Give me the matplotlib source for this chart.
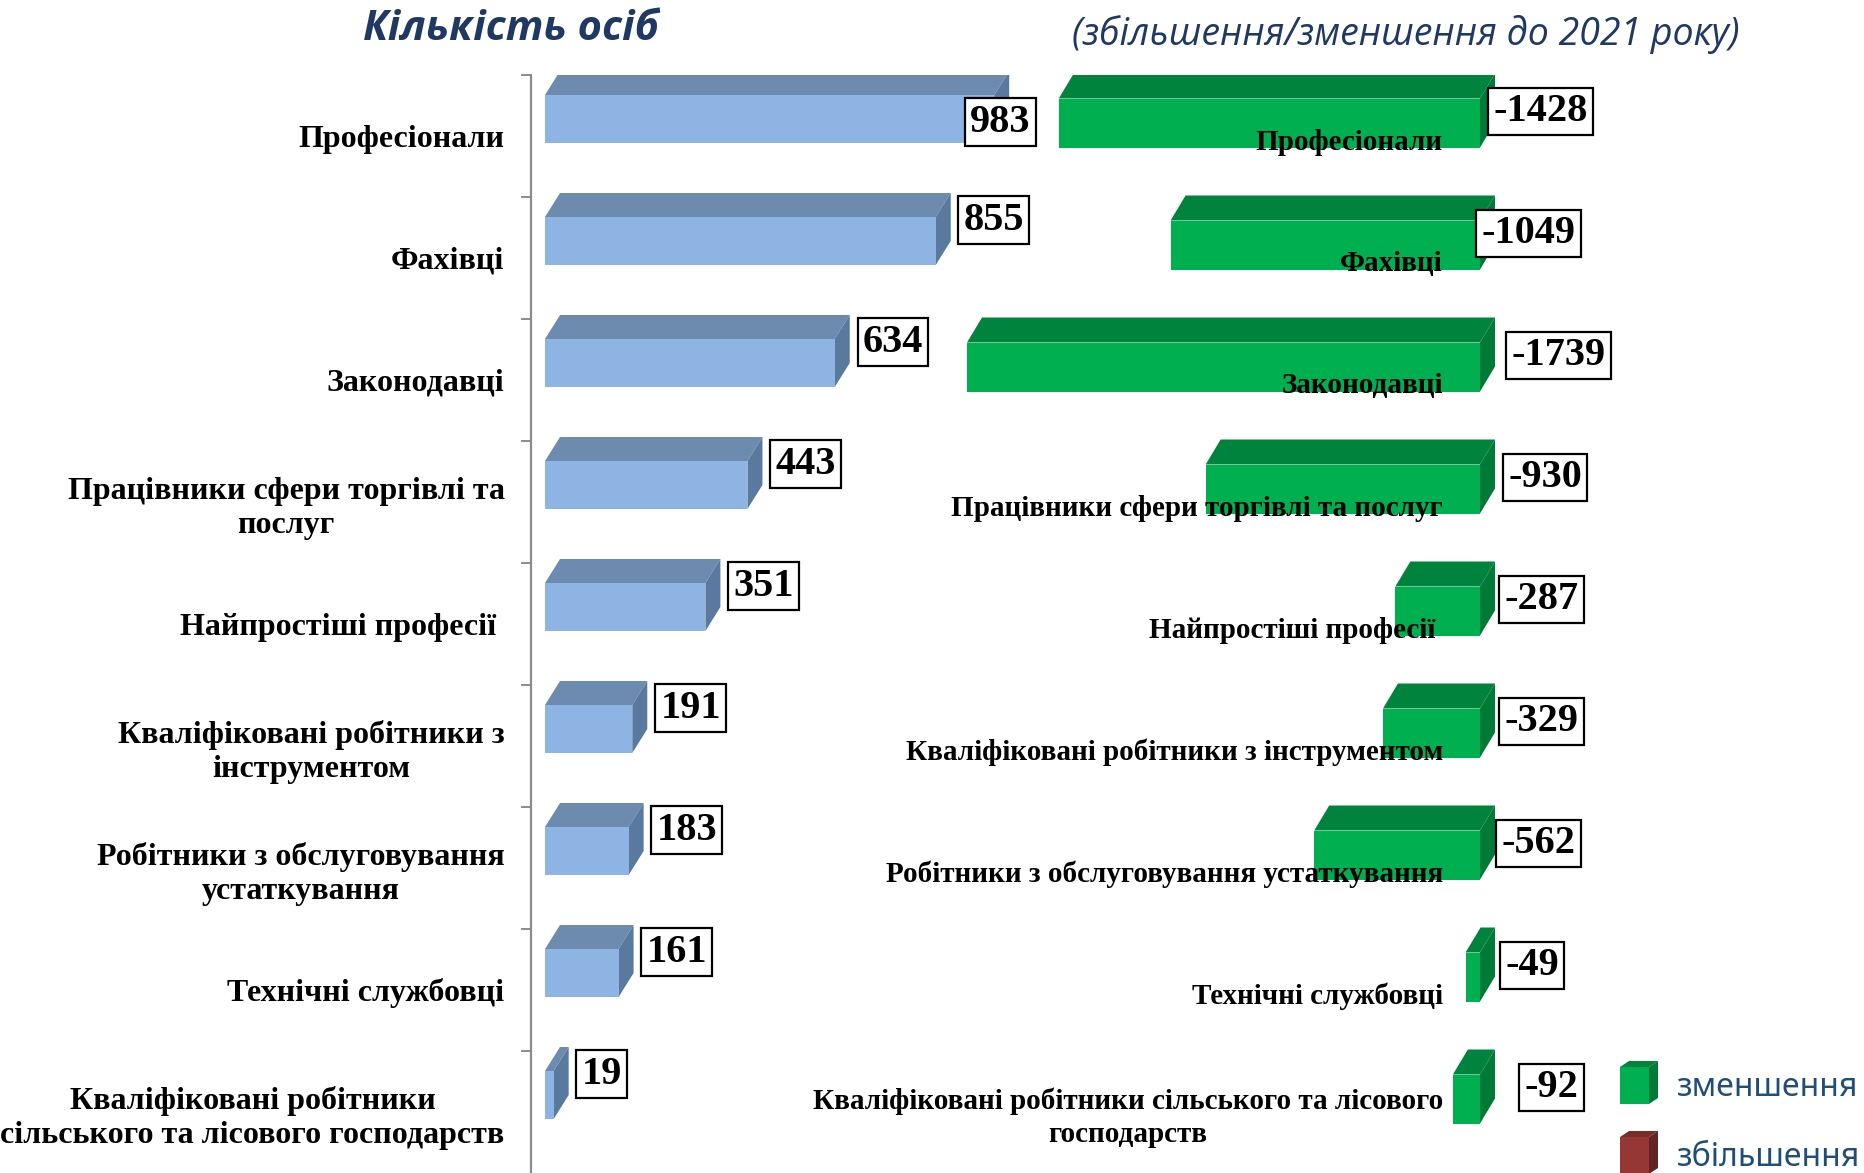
import matplotlib
matplotlib.use("Agg")
import matplotlib.pyplot as plt
from matplotlib.patches import Polygon

# data
left_labels = ["Професіонали", "Фахівці", "Законодавці",
               "Працівники сфери торгівлі та\nпослуг", "Найпростіші професії ",
               "Кваліфіковані робітники з\nінструментом",
               "Робітники з обслуговування\nустаткування", "Технічні службовці",
               "Кваліфіковані робітники\nсільського та лісового господарств"]
right_labels = ["Професіонали", "Фахівці", "Законодавці",
                "Працівники сфери торгівлі та послуг", "Найпростіші професії ",
                "Кваліфіковані робітники з інструментом",
                "Робітники з обслуговування устаткування", "Технічні службовці",
                "Кваліфіковані робітники сільського та лісового\nгосподарств"]
persons = [983, 855, 634, 443, 351, 191, 183, 161, 19]
change = [-1428, -1049, -1739, -930, -287, -329, -562, -49, -92]
legend_names = ["зменшення", "збільшення"]

W, H = 1865, 1173
ROW = 122.0          # px per category
TOP = 75             # px, first tick
SERIF = "Liberation Serif"
NAVY = "#1F3864"

fig = plt.figure(figsize=(W / 100, H / 100), dpi=100)


def rect(x0, y0, x1, y1):
    return [x0 / W, 1 - y1 / H, (x1 - x0) / W, (y1 - y0) / H]


def bar3d(ax, x0, x1, yt, yb, ddx, ddy, cf, ct, cs):
    ax.add_patch(Polygon([(x0, yt), (x1, yt), (x1 + ddx, yt - ddy), (x0 + ddx, yt - ddy)],
                         closed=True, fc=ct, ec="none"))
    ax.add_patch(Polygon([(x1, yt), (x1 + ddx, yt - ddy), (x1 + ddx, yb - ddy), (x1, yb)],
                         closed=True, fc=cs, ec="none"))
    ax.add_patch(Polygon([(x0, yt), (x1, yt), (x1, yb), (x0, yb)],
                         closed=True, fc=cf, ec="none"))


n = len(persons)
box = dict(boxstyle="square,pad=0.13", fc="white", ec="black", lw=1.6)
VFS = 29

# ---------- left panel: number of persons ----------
sxl = 0.457           # px per person
ax = fig.add_axes(rect(531, TOP, 1050, H))
ax.patch.set_visible(False)
ax.set_xlim(-14 / sxl, (1050 - 545) / sxl)
ax.set_ylim(n, 0)
for s in ["top", "right", "bottom"]:
    ax.spines[s].set_visible(False)
ax.spines["left"].set_color("#8C8C8C")
ax.spines["left"].set_linewidth(1.6)
ax.set_xticks([])
ax.set_yticks(range(n))
ax.set_yticklabels([])
ax.tick_params(axis="y", which="major", length=7, width=1.4, color="#8C8C8C")
ax.set_yticks([i + 0.5 for i in range(n)], left_labels, minor=True)
ax.tick_params(axis="y", which="minor", length=0, pad=19)
for t in ax.get_yticklabels(minor=True):
    t.set_fontfamily(SERIF)
    t.set_fontweight("bold")
    t.set_fontsize(23)
    t.set_multialignment("center")
    t.set_linespacing(1.25)

ddx = 15 / sxl
ddy = 24 / ROW
for i, v in enumerate(persons):
    yt = i + 0.5 - 41 / ROW
    yb = i + 0.5 + 7 / ROW
    bar3d(ax, 0, v, yt, yb, ddx, ddy, "#8DB4E2", "#6D8AAF", "#5A799F")
    if i == 0:
        ax.annotate(str(v), xy=(v + ddx, (yt + yb) / 2), xytext=(-39 * 0.72, -3 * 0.72),
                    textcoords="offset points", ha="left", va="center",
                    fontfamily=SERIF, fontweight="bold", fontsize=VFS, bbox=box, zorder=5)
    else:
        ax.annotate(str(v), xy=(v + ddx, yt), xytext=(13 * 0.72, -3 * 0.72),
                    textcoords="offset points", ha="left", va="center",
                    fontfamily=SERIF, fontweight="bold", fontsize=VFS, bbox=box, zorder=5)

# ---------- right panel: change to 2021 ----------
sxr = 0.295
ax2 = fig.add_axes(rect(900, TOP, 1500, H))
ax2.patch.set_visible(False)
ax2.set_xlim(-(1480 - 900) / sxr, (1500 - 1480) / sxr)
ax2.set_ylim(n, 0)
ax2.axis("off")
ddx2 = 15 / sxr
ddy2 = 25 / ROW
nudge = [-7, -19, 11, 8, 4, 4, 1, 5, 24]
for i, v in enumerate(change):
    yt = i + 0.5 - 37.5 / ROW
    yb = i + 0.5 + 11.5 / ROW
    bar3d(ax2, v, 0, yt, yb, ddx2, ddy2, "#00B050", "#00843D", "#007A37")
    ax2.text((1443 - 1480) / sxr, i + 0.5 + 6 / ROW, right_labels[i], ha="right", va="center",
             multialignment="center", fontfamily=SERIF, fontweight="bold", fontsize=21,
             linespacing=1.3, zorder=4)
    ax2.annotate(str(v), xy=(ddx2, yt + 13 / ROW), xytext=((nudge[i] + 5.5) * 0.72, 0),
                 textcoords="offset points", ha="left", va="center",
                 fontfamily=SERIF, fontweight="bold", fontsize=VFS, bbox=box, zorder=5)

# ---------- titles ----------
fig.text(511 / W, 1 - 30 / H, "Кількість осіб", ha="center", va="center",
         fontfamily="Open Sans", fontweight="bold", fontstyle="italic", fontsize=30, color=NAVY)
fig.text(1406 / W, 1 - 34 / H, "(збільшення/зменшення до 2021 року)", ha="center", va="center",
         fontfamily="Open Sans", fontstyle="italic", fontsize=27, color=NAVY)

# ---------- legend ----------
axl = fig.add_axes([0, 0, 1, 1])
axl.set_xlim(0, W)
axl.set_ylim(H, 0)
axl.axis("off")
axl.patch.set_visible(False)
cubes = [("#00B050", "#00843D", "#007A37", 1067, 1104), ("#953735", "#7A2C2B", "#632523", 1137, 1174)]
for (cf, ct, cs, y0, y1), name in zip(cubes, legend_names):
    bar3d(axl, 1620, 1649, y0, y1, 9, 6, cf, ct, cs)
    axl.text(1677, (y0 + y1) / 2 + 2, name, ha="left", va="center",
             fontfamily="Noto Sans", fontsize=23, color="#1F4E79")

fig.savefig("out.png", dpi=100)
